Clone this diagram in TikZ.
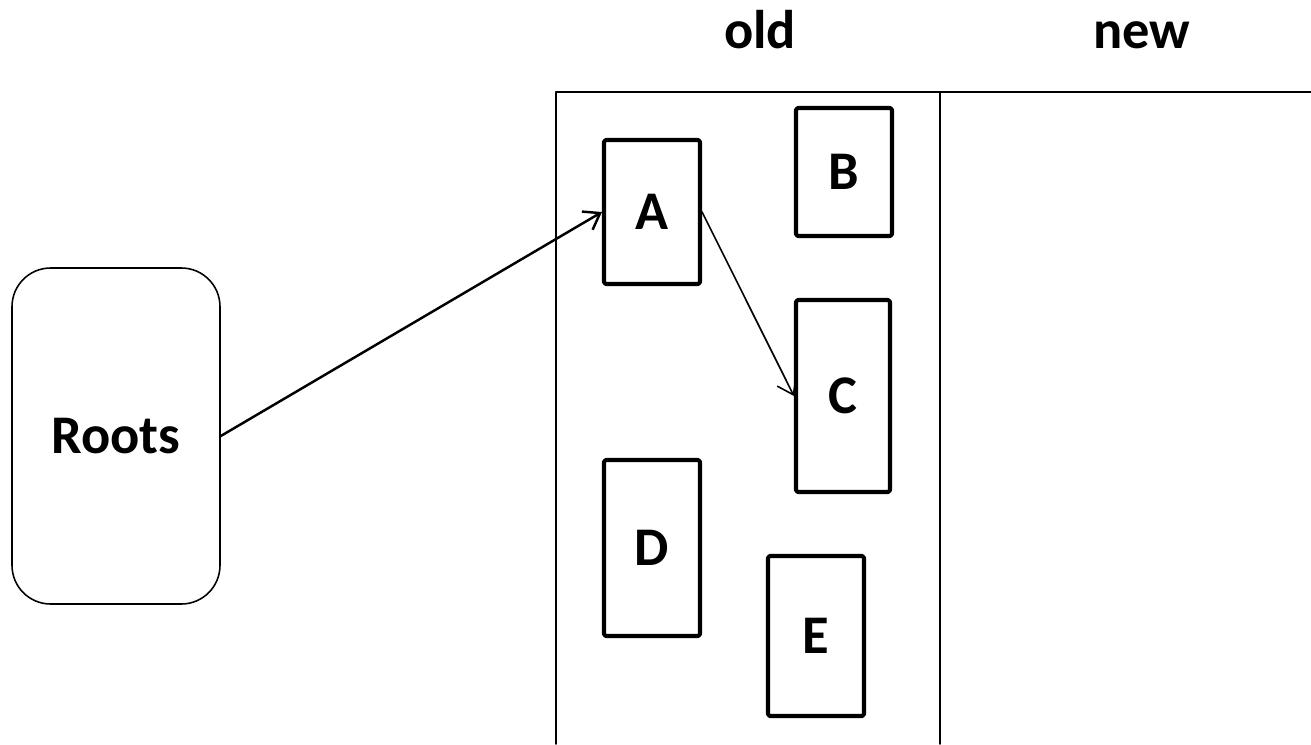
\documentclass[tikz,border=0pt]{standalone}
\usepackage{fontspec}
\setmainfont{Carlito}
\usepackage{tikz}
\usetikzlibrary{arrows.meta}

\tikzset{
  obj/.style={draw, line width=2.3pt, rounded corners=1pt, inner sep=0pt},
  rootbox/.style={draw, line width=0.9pt, rounded corners=22pt, minimum width=208*0.02cm, minimum height=336*0.02cm},
  region/.style={line width=0.9pt},
}

\begin{document}
\begin{tikzpicture}[x=0.02cm, y=-0.02cm, line cap=round, line join=round, >={Straight Barb[length=8.5pt,width=12pt]},
    every node/.style={font=\bfseries\fontsize{31}{36}\selectfont}]
    \useasboundingbox (0,0) rectangle (1311,744);
    % heap halves
    \draw[region] (556,744) -- (556,92) -- (1311,92);
    \draw[region] (940,92) -- (940,744);
    \node[anchor=base] (old) at (760,48) {old};
    \node[anchor=base] (new) at (1142,48) {new};
    % root set
    \node[rootbox] (roots) at (116,436) {Roots};
    % objects in the old space
    \node[obj, minimum width=96*0.02cm, minimum height=144*0.02cm] (A) at (652,212) {A};
    \node[obj, minimum width=96*0.02cm, minimum height=128*0.02cm] (B) at (844,172) {B};
    \node[obj, minimum width=94*0.02cm, minimum height=192*0.02cm] (C) at (843,396) {C};
    \node[obj, minimum width=96*0.02cm, minimum height=176*0.02cm] (D) at (652,548) {D};
    \node[obj, minimum width=96*0.02cm, minimum height=160*0.02cm] (E) at (816,636) {E};
    % references
    \draw[->, line width=1.4pt] (roots.east) -- (A.west);
    \draw[->, line width=0.9pt] (A.east) -- (C.west);
\end{tikzpicture}
\end{document}
